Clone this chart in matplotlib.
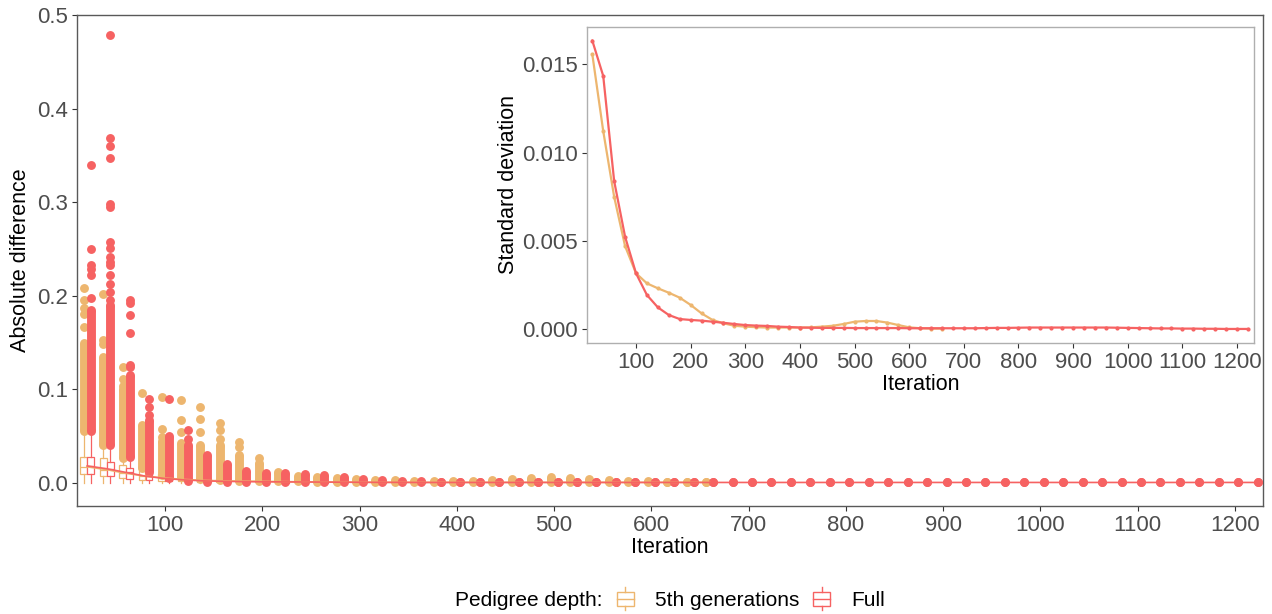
import matplotlib
matplotlib.use('Agg')
import matplotlib.pyplot as plt
from matplotlib.patches import Rectangle, Patch
from matplotlib.lines import Line2D
from matplotlib.legend_handler import HandlerBase

plt.rcParams['font.family'] = ['Liberation Sans', 'DejaVu Sans']

ORANGE = '#EDB66F'
RED = '#F66262'
series_names = ['5th generations', 'Full']

# iterations
iters_5th = list(range(20, 661, 20))
iters_full = list(range(20, 1221, 20))

# boxplot summaries - 5th generations
med_5th = [0.017, 0.014, 0.010, 0.007, 0.005, 0.0035, 0.0025, 0.002, 0.0017, 0.0015,
           0.0012, 0.001, 0.0008, 0.0006, 0.0005, 0.0004, 0.0004, 0.0004, 0.0004, 0.0004,
           0.0004, 0.0004, 0.0004, 0.0004, 0.0004, 0.0004, 0.0004, 0.0004, 0.0004, 0.0004,
           0.0004, 0.0004, 0.0004]
q1_5th = [0.009, 0.007, 0.005, 0.003, 0.002, 0.0015, 0.001, 0.0008, 0.0006, 0.0005,
          0.0004, 0.0003, 0.0002, 0.0002, 0.0002, 0.0002, 0.0002, 0.0002, 0.0002, 0.0002,
          0.0002, 0.0002, 0.0002, 0.0002, 0.0002, 0.0002, 0.0002, 0.0002, 0.0002, 0.0002,
          0.0002, 0.0002, 0.0002]
q3_5th = [0.028, 0.026, 0.019, 0.013, 0.009, 0.007, 0.005, 0.004, 0.0035, 0.003,
          0.0025, 0.002, 0.0018, 0.0015, 0.0012, 0.001, 0.001, 0.001, 0.001, 0.001,
          0.001, 0.001, 0.001, 0.001, 0.001, 0.001, 0.001, 0.001, 0.001, 0.001,
          0.001, 0.001, 0.001]
# dense column of outliers: from lo to hi
band_lo_5th = [0.055, 0.040, 0.026, 0.016, 0.008, 0.006, 0.004, 0.003, 0.002, 0.002,
               0.0015, 0.0015, 0.001, 0.001, 0.001, 0.001, 0.001, 0.001, 0.001, 0.001,
               0.001, 0.001, 0.001, 0.001, 0.001, 0.001, 0.001, 0.001, 0.001, 0.001,
               0.001, 0.001, 0.001]
band_hi_5th = [0.150, 0.135, 0.100, 0.062, 0.045, 0.042, 0.040, 0.040, 0.030, 0.021,
               0.012, 0.0075, 0.006, 0.005, 0.004, 0.003, 0.003, 0.002, 0.002, 0.002,
               0.002, 0.003, 0.004, 0.005, 0.006, 0.005, 0.004, 0.003, 0.002, 0.0015,
               0.0012, 0.0012, 0.001]
sparse_5th = {20: [0.208, 0.195, 0.187, 0.181, 0.167],
              40: [0.202, 0.153, 0.148],
              60: [0.124, 0.111, 0.104],
              80: [0.096],
              100: [0.092, 0.058, 0.049],
              120: [0.088, 0.067, 0.054],
              140: [0.081, 0.068, 0.054],
              160: [0.064, 0.056, 0.047],
              180: [0.044, 0.038],
              200: [0.026]}

# boxplot summaries - Full
med_full = [0.018, 0.015, 0.011, 0.007, 0.0045, 0.003, 0.002, 0.0015, 0.0012, 0.001,
            0.0009, 0.0008, 0.0007, 0.0006, 0.0005, 0.0004, 0.0004, 0.0003, 0.0003, 0.0003,
            0.0003, 0.0003, 0.0003, 0.0003, 0.0003, 0.0003, 0.0003, 0.0003, 0.0003, 0.0003,
            0.0003, 0.0003, 0.0003, 0.0003, 0.0003, 0.0003, 0.0003, 0.0003, 0.0003, 0.0003,
            0.0003, 0.0003, 0.0003, 0.0003, 0.0003, 0.0003, 0.0003, 0.0003, 0.0003, 0.0003,
            0.0003, 0.0003, 0.0003, 0.0003, 0.0003, 0.0003, 0.0003, 0.0003, 0.0003, 0.0003,
            0.0003]
q1_full = [0.009, 0.007, 0.004, 0.0025, 0.0015, 0.001, 0.0007, 0.0005, 0.0004, 0.0003,
           0.0002, 0.0002, 0.0002, 0.0002, 0.0002, 0.0001, 0.0001, 0.0001, 0.0001, 0.0001,
           0.0001, 0.0001, 0.0001, 0.0001, 0.0001, 0.0001, 0.0001, 0.0001, 0.0001, 0.0001,
           0.0001, 0.0001, 0.0001, 0.0001, 0.0001, 0.0001, 0.0001, 0.0001, 0.0001, 0.0001,
           0.0001, 0.0001, 0.0001, 0.0001, 0.0001, 0.0001, 0.0001, 0.0001, 0.0001, 0.0001,
           0.0001, 0.0001, 0.0001, 0.0001, 0.0001, 0.0001, 0.0001, 0.0001, 0.0001, 0.0001,
           0.0001]
q3_full = [0.028, 0.022, 0.016, 0.010, 0.007, 0.005, 0.0035, 0.003, 0.0025, 0.002,
           0.0018, 0.0016, 0.0014, 0.0012, 0.001, 0.0008, 0.0007, 0.0006, 0.0006, 0.0006,
           0.0006, 0.0006, 0.0006, 0.0006, 0.0006, 0.0006, 0.0006, 0.0006, 0.0006, 0.0006,
           0.0006, 0.0006, 0.0006, 0.0006, 0.0006, 0.0006, 0.0006, 0.0006, 0.0006, 0.0006,
           0.0006, 0.0006, 0.0006, 0.0006, 0.0006, 0.0006, 0.0006, 0.0006, 0.0006, 0.0006,
           0.0006, 0.0006, 0.0006, 0.0006, 0.0006, 0.0006, 0.0006, 0.0006, 0.0006, 0.0006,
           0.0006]
band_lo_full = [0.055, 0.040, 0.028, 0.012, 0.005, 0.002, 0.001, 0.001, 0.001, 0.001,
                0.0008, 0.0008, 0.0008, 0.0008, 0.0008, 0.0008, 0.0008, 0.0008, 0.0008, 0.0008,
                0.0008, 0.0008, 0.0008, 0.0008, 0.0008, 0.0008, 0.0008, 0.0008, 0.0008, 0.0008,
                0.0008, 0.0008, 0.0008, 0.0008, 0.0008, 0.0008, 0.0008, 0.0008, 0.0008, 0.0008,
                0.0008, 0.0008, 0.0008, 0.0008, 0.0008, 0.0008, 0.0008, 0.0008, 0.0008, 0.0008,
                0.0008, 0.0008, 0.0008, 0.0008, 0.0008, 0.0008, 0.0008, 0.0008, 0.0008, 0.0008,
                0.0008]
band_hi_full = [0.185, 0.190, 0.115, 0.067, 0.050, 0.040, 0.030, 0.020, 0.013, 0.010,
                0.010, 0.009, 0.0085, 0.006, 0.004, 0.003, 0.002, 0.0015, 0.0012, 0.0012,
                0.0012, 0.0012, 0.0012, 0.0012, 0.0012, 0.0012, 0.0012, 0.0012, 0.0012, 0.0012,
                0.0012, 0.0012, 0.0012, 0.0012, 0.0012, 0.0012, 0.0012, 0.0012, 0.0012, 0.0012,
                0.0012, 0.0012, 0.0012, 0.0012, 0.0012, 0.0012, 0.0012, 0.0012, 0.0012, 0.0012,
                0.0012, 0.0012, 0.0012, 0.0012, 0.0012, 0.0012, 0.0012, 0.0012, 0.0012, 0.0012,
                0.0012]
sparse_full = {20: [0.340, 0.250, 0.233, 0.229, 0.222, 0.198],
               40: [0.479, 0.369, 0.360, 0.348, 0.298, 0.295, 0.258, 0.251, 0.242, 0.236,
                    0.233, 0.222, 0.213, 0.204, 0.195],
               60: [0.195, 0.192, 0.179, 0.160, 0.126, 0.124],
               80: [0.090, 0.081, 0.072],
               100: [0.090],
               120: [0.056, 0.047]}

# inset: standard deviation per iteration
sd_5th = [0.01557, 0.01122, 0.0075, 0.00471, 0.00317, 0.0026, 0.00232, 0.00207, 0.00179, 0.00138,
          0.0009, 0.00053, 0.00034, 0.0002, 0.00015, 0.00012, 0.0001, 0.0001, 0.0001, 0.0001,
          0.00011, 0.00015, 0.0002, 0.0003, 0.00043, 0.00047, 0.00047, 0.00038, 0.00024, 0.00011,
          0.00006, 0.00004, 0.00004]
sd_full = [0.01634, 0.01434, 0.00839, 0.00524, 0.00317, 0.00194, 0.00124, 0.00081, 0.00058, 0.00053,
           0.00049, 0.00043, 0.00037, 0.0003, 0.00024, 0.00021, 0.00019, 0.00015, 0.00013, 0.0001,
           0.00009, 0.00008, 0.00008, 0.00008, 0.00007, 0.00007, 0.00007, 0.00007, 0.00007, 0.00006,
           0.00006, 0.00006, 0.00006, 0.00006, 0.00006, 0.00006, 0.00007, 0.00008, 0.00008, 0.00009,
           0.0001, 0.0001, 0.0001, 0.0001, 0.0001, 0.0001, 0.0001, 0.0001, 0.00009, 0.00008,
           0.00007, 0.00006, 0.00005, 0.00005, 0.00004, 0.00004, 0.00003, 0.00003, 0.00002, 0.00002,
           0.00002]

W, H = 1272, 614
fig = plt.figure(figsize=(W / 100, H / 100), dpi=100)

TICK_C = '#4D4D4D'
FS_TICK = 16
FS_LAB = 15.5
FS_LEG = 15

# main panel
ax = fig.add_axes([77 / W, (H - 506) / H, (1263 - 77) / W, (506 - 15) / H])
ax.set_xlim(9.5, 1229)
ax.set_ylim(-0.0249, 0.5005)

DOT = 6.4
series = [
    (iters_5th, med_5th, q1_5th, q3_5th, band_lo_5th, band_hi_5th, sparse_5th, ORANGE, -3.6),
    (iters_full, med_full, q1_full, q3_full, band_lo_full, band_hi_full, sparse_full, RED, 3.6),
]
for its, med, q1, q3, blo, bhi, sparse, col, off in series:
    pos = [i + off for i in its]
    stats = [dict(med=m, q1=a, q3=b, whislo=0.0, whishi=lo, fliers=[])
             for m, a, b, lo in zip(med, q1, q3, blo)]
    ax.bxp(stats, positions=pos, widths=7, showcaps=False, patch_artist=True,
           boxprops=dict(facecolor='white', edgecolor=col, linewidth=0.9),
           medianprops=dict(color=col, linewidth=0.9),
           whiskerprops=dict(color=col, linewidth=0.9), manage_ticks=False, zorder=2)
    # dense columns of outliers: a thick stroke between the two end dots
    ax.vlines(pos, blo, bhi, colors=col, linewidth=DOT, zorder=3)
    ax.plot(pos, blo, 'o', color=col, ms=DOT, mew=0, zorder=3)
    ax.plot(pos, bhi, 'o', color=col, ms=DOT, mew=0, zorder=3)
    for it, vals in sparse.items():
        ax.plot([it + off] * len(vals), vals, 'o', color=col, ms=DOT, mew=0, zorder=3)

for its, med, col in [(iters_5th, med_5th, ORANGE), (iters_full, med_full, RED)]:
    ax.plot(its, med, color=col, lw=1.2, zorder=4)

ax.set_xticks(range(100, 1201, 100))
ax.set_yticks([0.0, 0.1, 0.2, 0.3, 0.4, 0.5])
ax.set_yticklabels(['0.0', '0.1', '0.2', '0.3', '0.4', '0.5'])
ax.tick_params(labelsize=FS_TICK, labelcolor=TICK_C, color='#333333', length=3.5, width=0.8, pad=3)
ax.set_xlabel('Iteration', fontsize=FS_LAB, labelpad=1)
ax.set_ylabel('Absolute difference', fontsize=FS_LAB, labelpad=4)
for s in ax.spines.values():
    s.set_color('#595959')
    s.set_linewidth(1.0)

# inset panel
ax2 = fig.add_axes([587 / W, (H - 343) / H, (1254 - 587) / W, (343 - 27) / H])
ax2.set_xlim(10.3, 1231)
ax2.set_ylim(-0.000775, 0.01711)
ax2.plot(iters_5th, sd_5th, '-o', color=ORANGE, lw=1.6, ms=3, mew=0)
ax2.plot(iters_full, sd_full, '-o', color=RED, lw=1.6, ms=3, mew=0)
ax2.set_xticks(range(100, 1201, 100))
ax2.set_yticks([0.0, 0.005, 0.010, 0.015])
ax2.set_yticklabels(['0.000', '0.005', '0.010', '0.015'])
ax2.tick_params(labelsize=FS_TICK, labelcolor=TICK_C, color='#333333', length=3.5, width=0.8, pad=3)
ax2.set_xlabel('Iteration', fontsize=FS_LAB, labelpad=1)
ax2.set_ylabel('Standard deviation', fontsize=FS_LAB, labelpad=2)
for s in ax2.spines.values():
    s.set_color('#AFAFAF')
    s.set_linewidth(1.0)


# legend with boxplot-shaped keys
class BoxHandler(HandlerBase):
    def create_artists(self, legend, orig_handle, xdescent, ydescent, width, height, fontsize, trans):
        c = orig_handle.get_edgecolor()
        cx = width / 2 - xdescent
        bw = width * 0.9
        bh = height * 0.8
        y0 = height / 2 - ydescent - bh / 2
        box = Rectangle((cx - bw / 2, y0), bw, bh, facecolor='white', edgecolor=c, lw=1.0, transform=trans)
        mid = Line2D([cx - bw / 2, cx + bw / 2], [y0 + bh / 2] * 2, color=c, lw=1.0, transform=trans)
        w1 = Line2D([cx, cx], [y0 + bh, y0 + bh + height * 0.25], color=c, lw=1.0, transform=trans)
        w2 = Line2D([cx, cx], [y0, y0 - height * 0.25], color=c, lw=1.0, transform=trans)
        return [box, mid, w1, w2]


handles = [Patch(edgecolor=ORANGE, facecolor='white'), Patch(edgecolor=RED, facecolor='white')]
ly = 1 - 600 / H
fig.text(455 / W, ly, 'Pedigree depth:', fontsize=FS_LEG, va='center', ha='left')
fig.legend(handles, series_names, loc='center left', bbox_to_anchor=(616 / W, ly),
           ncol=2, frameon=False, fontsize=FS_LEG, handlelength=0.9, handleheight=0.9,
           handletextpad=0.95, columnspacing=0.65, borderpad=0, borderaxespad=0,
           handler_map={Patch: BoxHandler()})

fig.savefig('out.png', dpi=100)
